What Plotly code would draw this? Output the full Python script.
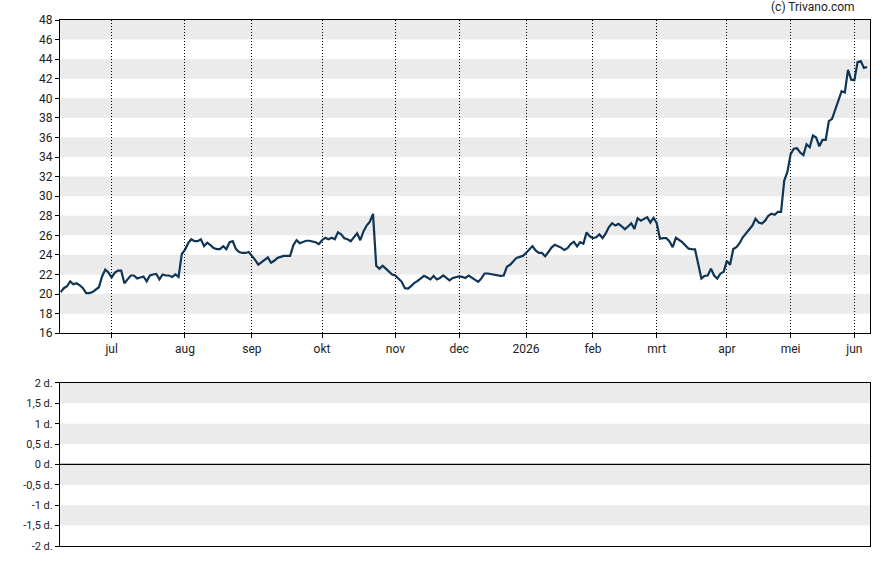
import pandas as pd
import plotly.graph_objects as go
from plotly.subplots import make_subplots

# ---- data -------------------------------------------------------------
start_date = "2025-06-09"
end_date = "2026-06-05"
holidays = ["2025-12-25", "2025-12-26", "2026-01-01", "2026-04-03", "2026-04-06", "2026-05-01"]

prices = [
    20.2, 20.6, 20.8, 21.3, 21.0, 21.1, 20.9, 20.6, 20.1, 20.1,
    20.2, 20.5, 20.7, 21.8, 22.5, 22.2, 21.7, 22.2, 22.4, 22.4,
    21.1, 21.5, 21.9, 21.9, 21.6, 21.7, 21.8, 21.3, 21.9, 22.0,
    22.05, 21.5, 22.0, 21.9, 21.9, 21.75, 22.0, 21.75, 24.1, 24.5,
    25.2, 25.6, 25.4, 25.4, 25.6, 24.9, 25.25, 25.0, 24.7, 24.6,
    24.6, 24.9, 24.6, 25.3, 25.4, 24.6, 24.3, 24.2, 24.2, 24.3,
    23.95, 23.5, 23.0, 23.3, 23.5, 23.75, 23.2, 23.4, 23.7, 23.8,
    23.9, 23.9, 23.9, 25.0, 25.5, 25.2, 25.35, 25.45, 25.45, 25.4,
    25.3, 25.1, 25.5, 25.75, 25.6, 25.75, 25.6, 26.3, 26.1, 25.7,
    25.6, 25.4, 25.8, 26.2, 25.5, 26.4, 27.0, 27.4, 28.2, 22.9,
    22.6, 22.9, 22.6, 22.3, 22.0, 21.9, 21.6, 21.25, 20.6, 20.57,
    20.84, 21.15, 21.35, 21.6, 21.86, 21.7, 21.5, 21.85, 21.5, 21.65,
    21.9, 21.65, 21.4, 21.65, 21.75, 21.8, 21.75, 21.65, 21.9, 21.7,
    21.5, 21.25, 21.6, 22.1, 22.1, 22.05, 21.95, 21.9, 21.86, 21.9,
    22.8, 22.99, 23.3, 23.7, 23.8, 23.9, 24.2, 24.57, 24.9, 24.46,
    24.2, 24.2, 23.85, 24.3, 24.75, 25.04, 24.9, 24.75, 24.5, 24.7,
    25.1, 25.35, 24.87, 25.3, 25.15, 26.3, 25.9, 25.72, 25.8, 26.1,
    25.72, 26.2, 26.85, 27.24, 27.0, 27.17, 26.93, 26.63, 26.9, 27.24,
    26.66, 27.75, 27.5, 27.7, 27.86, 27.3, 27.8, 27.24, 25.65, 25.72,
    25.72, 25.38, 24.8, 25.75, 25.55, 25.3, 24.97, 24.64, 24.6, 24.57,
    23.11, 21.59, 21.86, 21.9, 22.6, 21.9, 21.59, 22.1, 22.27, 23.39,
    23.0, 24.6, 24.8, 25.2, 25.8, 26.2, 26.6, 27.0, 27.7, 27.3,
    27.2, 27.5, 28.0, 28.2, 28.1, 28.4, 28.4, 31.6, 32.5, 34.3,
    34.85, 34.9, 34.46, 34.2, 35.3, 35.0, 36.2, 36.0, 35.1, 35.75,
    35.75, 37.67, 37.9, 38.86, 39.94, 40.72, 40.6, 42.9, 41.9, 41.85,
    43.7, 43.8, 43.1, 43.2,
]

tick_months = ["2025-07", "2025-08", "2025-09", "2025-10", "2025-11", "2025-12",
               "2026-01", "2026-02", "2026-03", "2026-04", "2026-05", "2026-06"]
tick_labels = ["jul", "aug", "sep", "okt", "nov", "dec", "2026", "feb", "mrt", "apr", "mei", "jun"]

y1_ticks = list(range(16, 49, 2))
y2_ticks = [-2, -1.5, -1, -0.5, 0, 0.5, 1, 1.5, 2]
y2_labels = ["-2 d.", "-1,5 d.", "-1 d.", "-0,5 d.", "0 d.", "0,5 d.", "1 d.", "1,5 d.", "2 d."]

# ---- trading-day index ------------------------------------------------
dates = pd.bdate_range(start_date, end_date)
dates = dates[~dates.isin(pd.to_datetime(holidays))]
n = min(len(dates), len(prices))
dates = dates[:n]
prices = prices[:n]
xidx = list(range(n))

month_keys = dates.strftime("%Y-%m")
tick_pos = []
for m in tick_months:
    pos = [i for i, k in enumerate(month_keys) if k == m]
    tick_pos.append(pos[0])

# ---- figure ------------------------------------------------------------
fig = make_subplots(rows=2, cols=1, shared_xaxes=False, vertical_spacing=0.0)

fig.add_trace(go.Scatter(x=xidx, y=prices, mode="lines",
                         line=dict(color="#0f3556", width=2.2),
                         hoverinfo="skip", showlegend=False), row=1, col=1)
fig.add_trace(go.Scatter(x=[xidx[0], xidx[-1]], y=[None, None], mode="lines",
                         showlegend=False, hoverinfo="skip"), row=2, col=1)

band_color = "#ebebeb"
shapes = []
for lo in range(18, 48, 4):
    shapes.append(dict(type="rect", xref="x domain", yref="y", x0=0, x1=1,
                       y0=lo, y1=lo + 2, fillcolor=band_color, line_width=0, layer="below"))
for lo in [1.5, 0.5, -0.5, -1.5]:
    shapes.append(dict(type="rect", xref="x2 domain", yref="y2", x0=0, x1=1,
                       y0=lo, y1=lo + 0.5, fillcolor=band_color, line_width=0, layer="below"))
shapes.append(dict(type="line", xref="x2 domain", yref="y2", x0=0, x1=1, y0=0, y1=0,
                   line=dict(color="black", width=1.2)))

xrange = [-0.2, 253.9]
font = dict(family="Roboto, Arial, sans-serif", size=12, color="#222222")

fig.update_layout(
    width=888, height=565,
    margin=dict(l=60, r=18, t=20, b=16),
    paper_bgcolor="white", plot_bgcolor="white",
    font=font, shapes=shapes, showlegend=False,
    xaxis=dict(domain=[0, 1], range=xrange, tickmode="array", tickvals=tick_pos,
               ticktext=tick_labels, showgrid=True, gridcolor="black", griddash="1px,2px",
               gridwidth=1, ticks="outside", ticklen=4, tickcolor="black",
               showline=True, linecolor="black", linewidth=1.2, mirror=True,
               zeroline=False, anchor="y"),
    yaxis=dict(domain=[0.4045, 1.0], range=[16, 48], tickmode="array", tickvals=y1_ticks,
               showgrid=False, ticks="outside", ticklen=4, tickcolor="black",
               showline=True, linecolor="black", linewidth=1.2, mirror=True,
               zeroline=False, anchor="x"),
    xaxis2=dict(domain=[0, 1], range=xrange, showticklabels=False, showgrid=False,
                ticks="", showline=True, linecolor="black", linewidth=1.2, mirror=True,
                zeroline=False, anchor="y2"),
    yaxis2=dict(domain=[0.0, 0.31], range=[-2, 2], tickmode="array", tickvals=y2_ticks,
                ticktext=y2_labels, tickfont=dict(size=11), showgrid=False,
                ticks="outside", ticklen=4, tickcolor="black",
                showline=True, linecolor="black", linewidth=1.2, mirror=True,
                zeroline=False, anchor="x2"),
    annotations=[dict(text="(c) Trivano.com", xref="paper", yref="paper",
                      x=0.984, y=1.0, yshift=4, xanchor="right", yanchor="bottom",
                      showarrow=False, font=dict(size=12, color="#222222"))],
)

fig.write_html("out.html")
